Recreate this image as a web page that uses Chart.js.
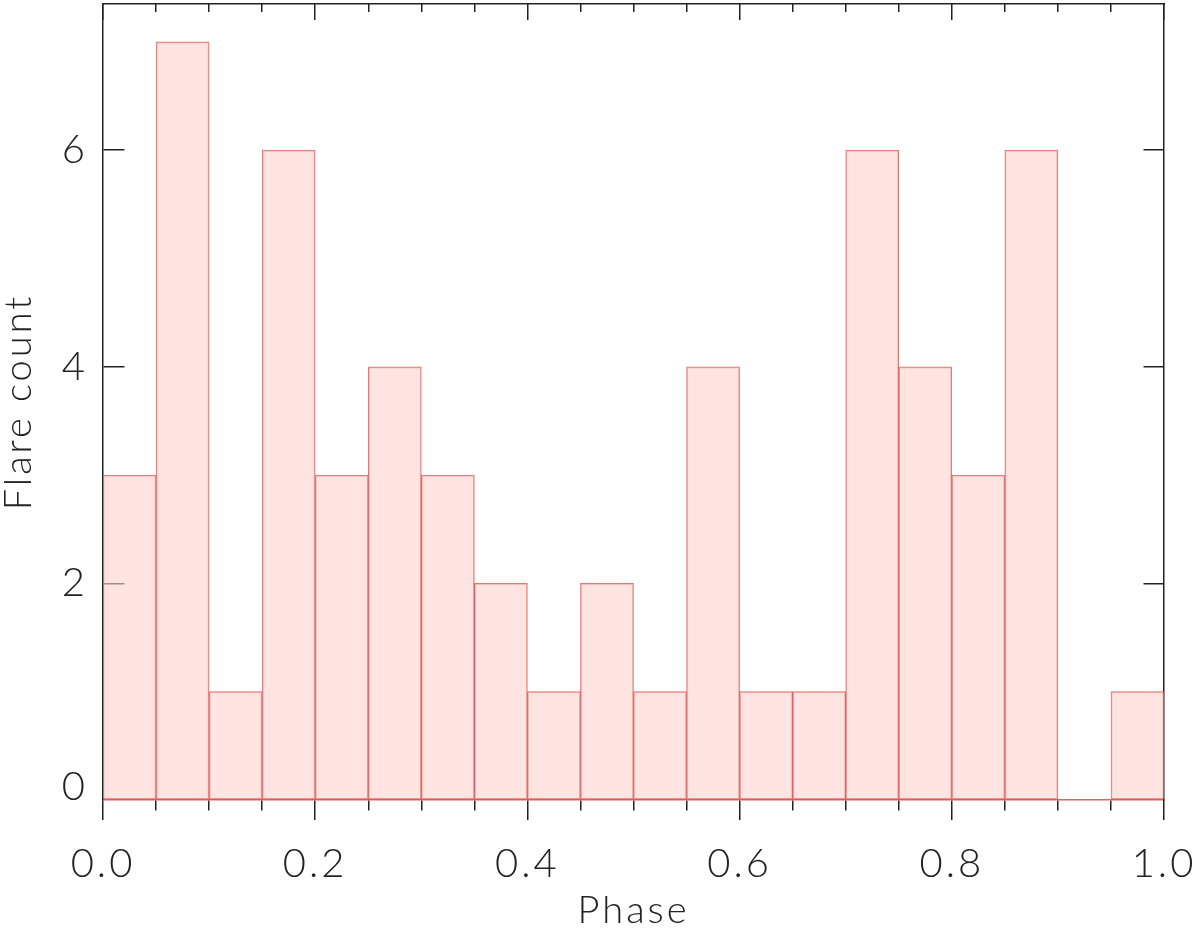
<!DOCTYPE html>
<html>
<head>
<meta charset="utf-8">
<script src="https://cdn.jsdelivr.net/npm/chart.js@4.4.1/dist/chart.umd.min.js"></script>
<style>
  html, body { margin: 0; padding: 0; background: #fff; }
  #wrap { width: 1200px; height: 936px; }
</style>
</head>
<body>
<div id="wrap"><canvas id="c" width="1200" height="936"></canvas></div>
<script>
// Histogram bins (phase bin centres) and counts
const binCenters = [0.025, 0.075, 0.125, 0.175, 0.225, 0.275, 0.325, 0.375, 0.425, 0.475,
                    0.525, 0.575, 0.625, 0.675, 0.725, 0.775, 0.825, 0.875, 0.925, 0.975];
const flareCounts = [3, 7, 1, 6, 3, 4, 3, 2, 1, 2, 1, 4, 1, 1, 6, 4, 3, 6, 0, 1];
const xTickStep = 0.05;
const xMajorStep = 0.2;
const yTickStep = 2;

const FONT = 'Lato';
const AXIS = '#222';
const isMajor = v => v !== undefined && Math.abs(v / xMajorStep - Math.round(v / xMajorStep)) < 1e-6;

const points = binCenters.map((x, i) => ({ x: x, y: flareCounts[i] }));

const spacing = {
  id: 'spacing',
  beforeDraw(chart) { chart.ctx.letterSpacing = '3px'; }
};

new Chart(document.getElementById('c'), {
  type: 'bar',
  plugins: [spacing],
  data: {
    datasets: [{
      data: points,
      backgroundColor: 'rgba(255,210,205,0.6)',
      borderColor: 'rgba(215,70,70,0.75)',
      borderWidth: 1,
      borderSkipped: false,
      barPercentage: 1,
      categoryPercentage: 1
    }]
  },
  options: {
    responsive: false,
    animation: false,
    devicePixelRatio: 1,
    layout: { padding: 0 },
    plugins: { legend: { display: false }, tooltip: { enabled: false } },
    scales: {
      x: {
        type: 'linear', position: 'bottom', min: 0, max: 1, offset: false,
        ticks: {
          stepSize: xTickStep, autoSkip: false, includeBounds: false, maxRotation: 0,
          color: AXIS, padding: 20,
          font: { family: FONT, size: 40, weight: 300 },
          callback: v => isMajor(v) ? Number(v).toFixed(1) : ''
        },
        grid: {
          offset: false, drawOnChartArea: true, drawTicks: true, tickLength: 20,
          color: AXIS, lineWidth: 1.5, tickColor: AXIS, tickWidth: 1.5,
          tickBorderDash: ctx => (ctx.tick && isMajor(ctx.tick.value)) ? [] : [10, 200]
        },
        border: {
          color: 'rgba(215,70,70,0.85)', width: 1.5,
          dash: ctx => (ctx.tick && isMajor(ctx.tick.value)) ? [16, 20000] : [8, 20000]
        },
        title: {
          display: true, text: 'Phase', color: AXIS,
          font: { family: FONT, size: 38, weight: 300, lineHeight: 1 },
          padding: { top: 0, bottom: 6 }
        },
        afterFit: s => { s.height = 136; s.paddingLeft = 0; s.paddingRight = 0; }
      },
      x2: {
        type: 'linear', position: 'top', min: 0, max: 1,
        ticks: { display: false },
        grid: { display: true, drawOnChartArea: false, drawTicks: false },
        border: { display: true, color: AXIS, width: 1.5 },
        afterFit: s => { s.height = 4; s.paddingLeft = 0; s.paddingRight = 0; }
      },
      y: {
        type: 'linear', position: 'left', min: 0, max: 7.35,
        ticks: {
          stepSize: yTickStep, includeBounds: false, color: AXIS, padding: 15,
          font: ctx => ({ family: FONT, size: 40, weight: 300,
                          lineHeight: (ctx.tick && ctx.tick.value === 0) ? 0.65 : 1.2 }),
          callback: v => v === 0 ? ['0', ''] : String(v)
        },
        grid: {
          drawOnChartArea: true, drawTicks: false, lineWidth: 1.5,
          color: ctx => (ctx.tick && ctx.tick.value === 0) ? 'rgba(0,0,0,0)' : AXIS
        },
        border: {
          color: AXIS, width: 1.5,
          dash: ctx => {
            const ca = ctx.chart && ctx.chart.chartArea;
            const w = ca ? ca.right - ca.left : 1061;
            return [21, w - 42, 21, 20000];
          }
        },
        title: {
          display: true, text: 'Flare count', color: AXIS,
          font: { family: FONT, size: 38, weight: 300, lineHeight: 1 },
          padding: { top: 0, bottom: 0 }
        },
        afterFit: s => { s.width = 103; s.paddingTop = 0; s.paddingBottom = 0; }
      },
      y2: {
        type: 'linear', position: 'right', min: 0, max: 7.35,
        ticks: { display: false },
        grid: { display: true, drawOnChartArea: false, drawTicks: false },
        border: { display: true, color: AXIS, width: 1.5 },
        afterFit: s => { s.width = 36; s.paddingTop = 0; s.paddingBottom = 0; }
      }
    }
  }
});
</script>
</body>
</html>
